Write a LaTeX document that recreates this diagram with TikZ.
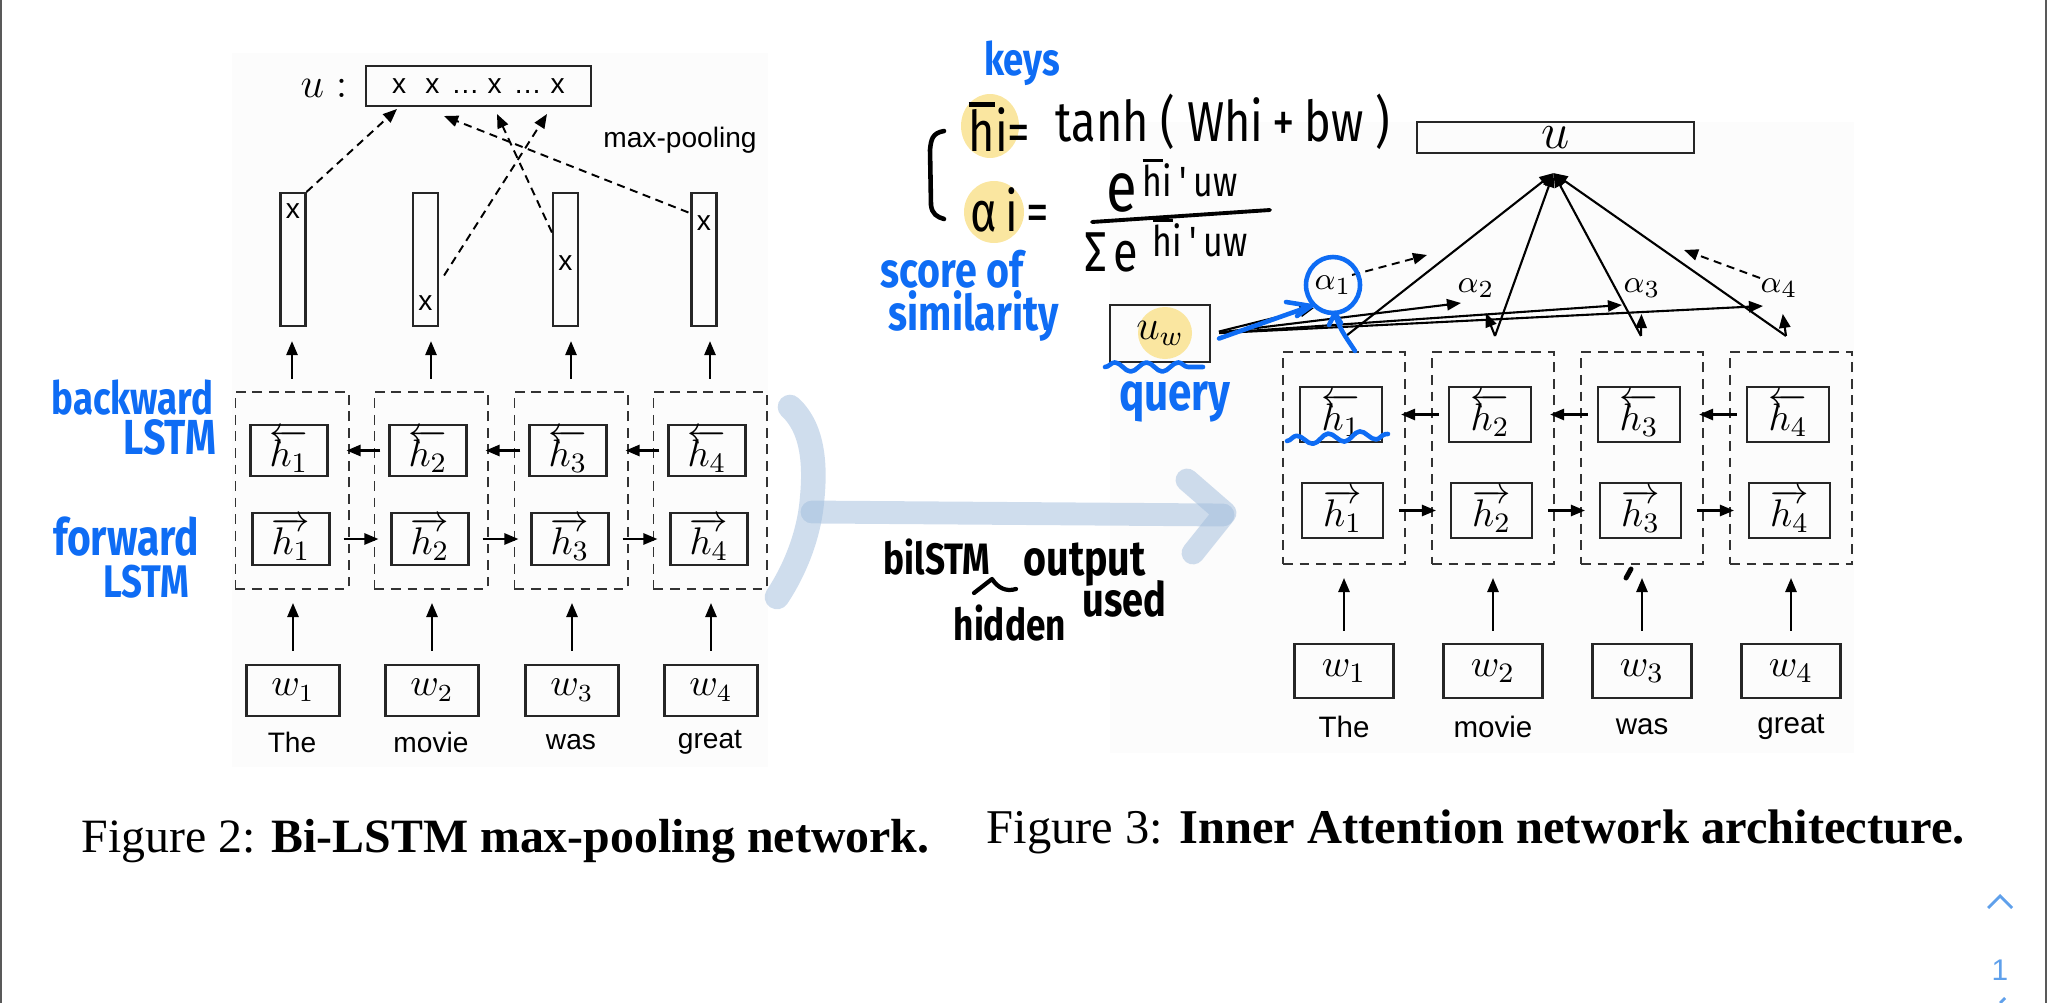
\documentclass[tikz,border=0pt]{standalone}
\usepackage{fontspec}
\setmainfont{Liberation Serif}
\setsansfont{Liberation Sans}
\newfontfamily\hand{Fira Sans}[FakeStretch=0.8]
\usetikzlibrary{arrows.meta,calc,decorations.pathmorphing}

\definecolor{penblue}{RGB}{14,108,244}
\definecolor{hilite}{RGB}{250,230,160}
\definecolor{wash}{RGB}{160,188,220}
\definecolor{uiblue}{RGB}{95,160,235}

\newcommand\hkey{\leavevmode\hbox{\setbox0\hbox{h}\rlap{\raisebox{\dimexpr\ht0+0.06em\relax}{\rule{\wd0}{0.08em}}}\box0}}

\tikzset{
  tip/.style={-{Triangle[length=4pt,width=3.2pt]}},
  dashbox/.style={draw=black!80, line width=0.55pt, dash pattern=on 2.8pt off 1.9pt, inner sep=0pt},
  cell/.style={draw=black!85, line width=0.6pt, inner sep=0pt},
  hcell/.style={cell, font=\fontsize{11}{11}\selectfont},
  poolbar/.style={draw=black!85, line width=0.6pt, inner sep=0pt, minimum width=0.25cm, minimum height=1.33cm},
  tok/.style={inner sep=0pt, font=\sffamily\fontsize{8}{10}\selectfont},
  maxline/.style={tip, line width=0.55pt, dash pattern=on 2.3pt off 1.6pt},
  pen/.style={penblue, inner sep=0pt},
  ink/.style={inner sep=0pt},
  penline/.style={penblue, line width=1.3pt, line cap=round, line join=round},
  squiggle/.style={penline, decorate, decoration={snake, amplitude=1.3pt, segment length=9pt}},
  washline/.style={wash, draw opacity=0.5, line cap=round, line join=round}
}

\begin{document}
\begin{tikzpicture}[x=0.01cm, y=-0.01cm]
\useasboundingbox (0,0) rectangle (2048,1003);
\fill[black!1.2] (232,53) rectangle (768,767);
\fill[black!1.2] (1110,122) rectangle (1854,753);
\draw[black!65, line width=0.5pt] (1,0) -- (1,1003) (2046,0) -- (2046,1003);

% highlighter
\fill[hilite] (990,126) ellipse [x radius=29, y radius=32];
\fill[hilite] (994,212) ellipse [x radius=30, y radius=31];
\fill[hilite] (1165,333) ellipse [x radius=27, y radius=26];

% Figure 2
\node[cell, minimum width=2.25cm, minimum height=0.4cm, font=\sffamily\fontsize{8}{10}\selectfont] (lvec) at (478.5,86)
  {x\hspace{1.9mm}x\hspace{1.2mm}\ldots\hspace{0.8mm}x\hspace{1.2mm}\ldots\hspace{0.9mm}x};
\node[inner sep=0pt, font=\fontsize{13}{13}\selectfont] (lvecname) at (324,88) {$u:$};
\node[tok] (lpoolname) at (680,140) {max-pooling};

\foreach \i/\cx/\bx/\my/\word in {1/292/293/211/The, 2/431/425.5/303/movie, 3/571/565.5/263/was, 4/710/704/223/great}{
  \node[dashbox, minimum width=1.13cm, minimum height=1.97cm] (ldash\i) at (\cx,490.5) {};
  \node[hcell, minimum width=0.77cm, minimum height=0.51cm] (lback\i) at (\cx-3,450.5) {$\overleftarrow{h_\i}$};
  \node[hcell, minimum width=0.77cm, minimum height=0.52cm] (lfwd\i) at (\cx-1,539) {$\overrightarrow{h_\i}$};
  \node[cell, minimum width=0.93cm, minimum height=0.51cm, font=\fontsize{10.5}{11}\selectfont] (lword\i) at (\cx+1,690.5) {$w_\i$};
  \node[tok] (ltok\i) at (\cx,742) {\word};
  \node[poolbar] (lpool\i) at (\bx,259.5) {};
  \node[tok] (lmax\i) at (\bx,\my) {x};
  \draw[tip, line width=0.6pt, shorten <=0.13cm, shorten >=0.13cm] (lword\i.north) -- (lword\i.north |- ldash\i.south);
  \draw[tip, line width=0.6pt, shorten <=0.12cm, shorten >=0.14cm] (ldash\i.north) -- (ldash\i.north |- lpool\i.south);
}
\foreach \i in {1,2,3}{
  \pgfmathtruncatemacro\j{\i+1}
  \draw[tip, line width=0.6pt, shorten <=0.08cm, shorten >=0.18cm] (lback\j.west) -- (lback\i.east);
  \draw[tip, line width=0.6pt, shorten <=0.13cm, shorten >=0.12cm] (lfwd\i.east) -- (lfwd\j.west);
}
\coordinate (lin1) at (397,109);
\coordinate (lin2) at (547,114);
\coordinate (lin3) at (497,114);
\coordinate (lin4) at (444,116);
\draw[maxline] (lpool1.north east) -- (lin1);
\draw[maxline] ($(lpool2.east)+(5,16)$) -- (lin2);
\draw[maxline] ($(lpool3.west)+(0,-27)$) -- (lin3);
\draw[maxline] ($(lpool4.west)+(-2,-47)$) -- (lin4);

% Figure 3
\node[cell, minimum width=2.77cm, minimum height=0.31cm, font=\fontsize{15}{15}\selectfont] (rvec) at (1555.5,137.5) {$u$};
\coordinate (apex) at ($(rvec.south)+(-2,19)$);
\node[cell, minimum width=1cm, minimum height=0.57cm, font=\fontsize{11.5}{11.5}\selectfont] (rquery) at (1160,333.5) {$u_w$};

\foreach \i/\cx/\word/\dx in {1/1344/The/2, 2/1493/movie/2, 3/1642/was/-1, 4/1791/great/-5}{
  \node[dashbox, minimum width=1.22cm, minimum height=2.12cm] (rdash\i) at (\cx,458) {};
  \node[hcell, minimum width=0.82cm, minimum height=0.55cm] (rback\i) at (\cx-3,414.5) {$\overleftarrow{h_\i}$};
  \node[hcell, minimum width=0.81cm, minimum height=0.55cm] (rfwd\i) at (\cx-1.5,510.5) {$\overrightarrow{h_\i}$};
  \node[cell, minimum width=0.99cm, minimum height=0.54cm, font=\fontsize{11}{11}\selectfont] (rword\i) at (\cx,671) {$w_\i$};
  \node[tok, font=\sffamily\fontsize{8.4}{10}\selectfont] (rtok\i) at (\cx,727) {\word};
  \draw[tip, line width=0.6pt, shorten <=0.12cm, shorten >=0.13cm] (rword\i.north) -- (rword\i.north |- rdash\i.south);
  \coordinate (t\i) at ($(rdash\i.north)+(\dx,-15)$);
  \draw[tip, line width=0.6pt] (t\i) -- (apex);
}
\foreach \i in {1,2,3}{
  \pgfmathtruncatemacro\j{\i+1}
  \draw[tip, line width=0.6pt, shorten <=0.09cm, shorten >=0.18cm] (rback\j.west) -- (rback\i.east);
  \draw[tip, line width=0.6pt, shorten <=0.15cm, shorten >=0.14cm] (rfwd\i.east) -- (rfwd\j.west);
}
\foreach \i/\ax/\ay in {1/1333/285, 2/1476/288, 3/1642/288, 4/1779/288}
  \node[inner sep=0pt, font=\fontsize{9.5}{9.5}\selectfont] (ralpha\i) at (\ax,\ay) {$\alpha_\i$};
\foreach \i in {2,3,4}
  \draw[tip, line width=0.6pt, shorten >=0.16cm] (t\i) -- (ralpha\i);
\foreach \i/\ox/\oy in {1/-19/23, 2/-15/15, 3/-20/17, 4/-16/18}
  \draw[tip, line width=0.6pt, shorten <=0.08cm] (rquery.east) -- ($(ralpha\i)+(\ox,\oy)$);
\coordinate (rin1) at (1427,255);
\coordinate (rin4) at (1684,250);
\draw[maxline] (ralpha1.north east) -- (rin1);
\draw[maxline] (ralpha4.north west) -- (rin4);

% bilstm -> attention
\draw[washline, line width=7pt] (790,407) .. controls (815,430) and (815,470) .. (812,500) .. controls (809,535) and (795,570) .. (777,597);
\draw[washline, line width=6.5pt] (812,512) -- (1223,515);
\draw[washline, line width=6.5pt] (1187,480) -- (1225,513) -- (1193,553);

% notes
\node[pen, font=\hand\bfseries\fontsize{13}{13}\selectfont] (keys) at (1022,63) {keys};
\node[ink, anchor=west, font=\hand\fontsize{16}{16}\selectfont] (hdef) at (968,127) {\hkey i=};
\node[ink, anchor=west, font=\hand\fontsize{16}{16}\selectfont] (tanh) at (1055,122) {tanh ( Whi\,+\,bw )};
\node[ink, anchor=west, font=\hand\fontsize{16}{16}\selectfont] (adef) at (970,210) {α\hspace{0.8mm}i\hspace{0.8mm}=};
\node[ink, anchor=west, font=\hand\fontsize{20}{20}\selectfont] (nume) at (1106,193) {e};
\node[ink, anchor=west, font=\hand\fontsize{12}{12}\selectfont] (nums) at (1142,178) {\hkey i\,'\,uw};
\node[ink, anchor=west, font=\hand\fontsize{16}{16}\selectfont] (dene) at (1084,252) {Σ\hspace{0.6mm}e};
\node[ink, anchor=west, font=\hand\fontsize{12}{12}\selectfont] (dens) at (1152,238) {\hkey i\,'\,uw};
\draw[line width=1.1pt, line cap=round] (1092,222) -- (1270,210);
\draw[line width=1.3pt, line cap=round] (944,131) .. controls (932,133) and (931,140) .. (930,150) -- (931,205) .. controls (932,214) and (937,217) .. (944,219);
\node[pen, anchor=west, font=\hand\bfseries\fontsize{14}{14}\selectfont] (score) at (880,269) {score of};
\node[pen, anchor=west, font=\hand\bfseries\fontsize{14}{14}\selectfont] (simil) at (888,316) {similarity};
\node[pen, font=\hand\bfseries\fontsize{15}{15}\selectfont] (query) at (1175,402) {query};
\node[pen, anchor=east, font=\hand\bfseries\fontsize{13}{13}\selectfont] (bwd) at (214,398) {backward};
\node[pen, anchor=east, font=\hand\bfseries\fontsize{14}{14}\selectfont] (bwdl) at (217,437) {LSTM};
\node[pen, anchor=east, font=\hand\bfseries\fontsize{14.5}{14.5}\selectfont] (fwd) at (200,537) {forward};
\node[pen, anchor=east, font=\hand\bfseries\fontsize{13}{13}\selectfont] (fwdl) at (190,582) {LSTM};
\node[ink, anchor=west, font=\hand\bfseries\fontsize{12.5}{12.5}\selectfont] (bil) at (883,557) {bilSTM};
\node[ink, anchor=west, font=\hand\bfseries\fontsize{14}{14}\selectfont] (outp) at (1023,565) {output};
\node[ink, anchor=west, font=\hand\bfseries\fontsize{12.5}{12.5}\selectfont] (hid) at (953,623) {hidden};
\node[ink, anchor=west, font=\hand\bfseries\fontsize{13.5}{13.5}\selectfont] (used) at (1082,599) {used};
\draw[line width=1.2pt, line cap=round, line join=round] (974,593) -- (992,579) .. controls (998,588) and (1006,592) .. (1016,589);
\draw[line width=1.4pt, line cap=round] (1626,578) -- (1631,569);

\draw[penline] (ralpha1) ellipse [x radius=27, y radius=28];
\draw[penline] ($(rquery.east)+(8,5)$) -- ($(ralpha1)+(-22,21)$);
\draw[penline] ($(ralpha1)+(-47,17)$) -- ($(ralpha1)+(-22,21)$) -- ($(ralpha1)+(-36,31)$);
\draw[penline] ($(ralpha1)+(2,30)$) .. controls ($(ralpha1)+(8,45)$) .. ($(ralpha1)+(22,66)$);
\draw[penline] ($(ralpha1)+(-4,40)$) -- ($(ralpha1)+(2,28)$) -- ($(ralpha1)+(8,38)$);
\draw[squiggle] (1105,367) -- (1203,367);
\draw[squiggle] (1287,441) -- (1388,434);

% captions
\node[anchor=west, inner sep=0pt, font=\fontsize{13.6}{16}\selectfont] (cap2) at (81,841) {Figure 2: \textbf{Bi-LSTM max-pooling network.}};
\node[anchor=west, inner sep=0pt, font=\fontsize{13.8}{16}\selectfont] (cap3) at (986,832) {Figure 3: \textbf{Inner Attention network architecture.}};

% page controls
\draw[uiblue, line width=0.8pt] (1988,908) -- (2000,896) -- (2012,908);
\node[uiblue, inner sep=0pt, font=\sffamily\fontsize{8.5}{10}\selectfont] (pageno) at (2000,970) {1};
\draw[uiblue, line width=0.8pt] (2000,1003) -- (2005,998);
\end{tikzpicture}
\end{document}
